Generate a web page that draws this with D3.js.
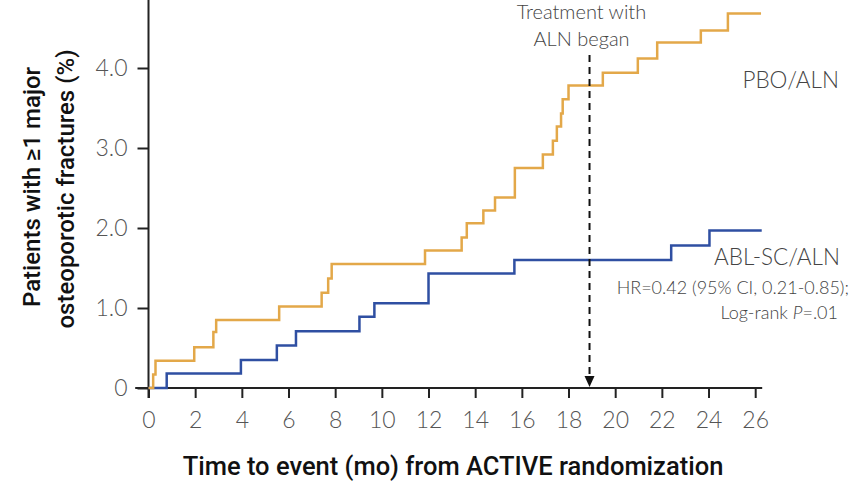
<!DOCTYPE html>
<html>
<head>
  <meta charset="UTF-8">
  <style>
    body { margin: 0; background: #fff; }
    svg { display: block; }
    .tick text { font-family: Lato, "Open Sans", sans-serif; font-weight: 300; fill: #555; }
    .note { font-family: Lato, "Open Sans", sans-serif; font-weight: 300; fill: #444; }
    .title { font-family: Roboto, "Open Sans", sans-serif; font-weight: 500; fill: #111; }
  </style>
</head>
<body>
<svg></svg>
<script src="https://d3js.org/d3.v7.min.js"></script>
<script>

// PBO/ALN curve (months, % with fracture)
let pboTime = [0, 0.2, 0.3, 1.96, 2.78, 2.9, 5.6, 7.42, 7.7, 7.85, 11.85, 13.42, 13.64, 14.35, 14.85, 15.7, 16.9, 17.33, 17.5, 17.68, 17.75, 18.0, 19.47, 20.97, 21.8, 23.67, 24.83, 26.25];
let pboPct  = [0, 0.17, 0.34, 0.51, 0.70, 0.85, 1.02, 1.19, 1.37, 1.55, 1.72, 1.88, 2.06, 2.22, 2.38, 2.75, 2.92, 3.09, 3.27, 3.43, 3.61, 3.78, 3.94, 4.12, 4.32, 4.47, 4.68, 4.68];

// ABL-SC/ALN curve
let ablTime = [0, 0.78, 3.96, 5.5, 6.32, 9.04, 9.68, 12.0, 15.68, 22.4, 24.04, 26.28];
let ablPct  = [0, 0.18, 0.35, 0.53, 0.71, 0.89, 1.06, 1.43, 1.60, 1.78, 1.97, 1.97];

let xTicks = [0, 2, 4, 6, 8, 10, 12, 14, 16, 18, 20, 22, 24, 26];
let yTicks = [0, 1, 2, 3, 4, 5];
let alnStart = 18.9;

let width = 851, height = 486;

let svg = d3.select("svg")
    .attr("width", width)
    .attr("height", height);

let x = d3.scaleLinear().domain([0, 26]).range([148.5, 755.2]);
let y = d3.scaleLinear().domain([0, 4]).range([388, 68]);

// axes
let xAxis = svg.append("g")
    .attr("transform", "translate(0," + y(0) + ")")
    .call(d3.axisBottom(x).tickValues(xTicks).tickSize(10).tickPadding(14));
xAxis.select(".domain").remove();
xAxis.selectAll("line").attr("stroke", "#222").attr("stroke-width", 2);
xAxis.selectAll("text").style("font-size", "23px");

let yAxis = svg.append("g")
    .attr("transform", "translate(" + x(0) + ",0)")
    .call(d3.axisLeft(y).tickValues(yTicks).tickSize(11).tickPadding(10)
      .tickFormat(d => d === 0 ? "0" : d.toFixed(1)));
yAxis.select(".domain").remove();
yAxis.selectAll("line").attr("stroke", "#222").attr("stroke-width", 2);
yAxis.selectAll("text").style("font-size", "23px");

// axis lines
svg.append("line")
    .attr("x1", x(-0.57)).attr("x2", x(26.3))
    .attr("y1", y(0)).attr("y2", y(0))
    .attr("stroke", "#222").attr("stroke-width", 2);
svg.append("line")
    .attr("x1", x(0)).attr("x2", x(0))
    .attr("y1", y(0) + 10).attr("y2", 0)
    .attr("stroke", "#222").attr("stroke-width", 2);

// step curves
let line = d3.line()
    .x(d => x(d[0]))
    .y(d => y(d[1]))
    .curve(d3.curveStepAfter);

svg.append("path")
    .datum(ablTime.map((t, i) => [t, ablPct[i]]))
    .attr("fill", "none")
    .attr("stroke", "#2f4fa2")
    .attr("stroke-width", 2.5)
    .attr("d", line);

svg.append("path")
    .datum(pboTime.map((t, i) => [t, pboPct[i]]))
    .attr("fill", "none")
    .attr("stroke", "#e3a849")
    .attr("stroke-width", 2.5)
    .attr("d", line);

// ALN start marker
svg.append("line")
    .attr("x1", x(alnStart)).attr("x2", x(alnStart))
    .attr("y1", 55).attr("y2", y(0) - 8)
    .attr("stroke", "#111").attr("stroke-width", 2)
    .attr("stroke-dasharray", "7,5");
svg.append("path")
    .attr("d", "M" + (x(alnStart) - 5) + "," + (y(0) - 12) + "L" + (x(alnStart) + 5) + "," + (y(0) - 12) + "L" + x(alnStart) + "," + (y(0) - 1) + "Z")
    .attr("fill", "#111");

svg.append("text").attr("class", "note")
    .attr("x", x(alnStart) - 8).attr("y", 19)
    .attr("text-anchor", "middle").style("font-size", "20px")
    .text("Treatment with");
svg.append("text").attr("class", "note")
    .attr("x", x(alnStart) - 8).attr("y", 46)
    .attr("text-anchor", "middle").style("font-size", "20px")
    .text("ALN began");

// series labels
svg.append("text").attr("class", "note")
    .attr("x", 839).attr("y", 88)
    .attr("text-anchor", "end").style("font-size", "22.5px")
    .text("PBO/ALN");
svg.append("text").attr("class", "note")
    .attr("x", 840).attr("y", 265)
    .attr("text-anchor", "end").style("font-size", "22.5px")
    .text("ABL-SC/ALN");
svg.append("text").attr("class", "note")
    .attr("x", 849).attr("y", 294)
    .attr("text-anchor", "end").style("font-size", "18px")
    .text("HR=0.42 (95% CI, 0.21-0.85);");
let lr = svg.append("text").attr("class", "note")
    .attr("x", 838).attr("y", 319)
    .attr("text-anchor", "end").style("font-size", "18px");
lr.append("tspan").text("Log-rank ");
lr.append("tspan").style("font-style", "italic").text("P");
lr.append("tspan").text("=.01");

// axis titles
svg.append("text").attr("class", "title")
    .attr("x", 453).attr("y", 475)
    .attr("text-anchor", "middle").style("font-size", "25.5px")
    .text("Time to event (mo) from ACTIVE randomization");

svg.append("text").attr("class", "title")
    .attr("transform", "translate(40,187) rotate(-90)")
    .attr("text-anchor", "middle").style("font-size", "24px")
    .text("Patients with \u22651 major");
svg.append("text").attr("class", "title")
    .attr("transform", "translate(74,189) rotate(-90)")
    .attr("text-anchor", "middle").style("font-size", "24px")
    .text("osteoporotic fractures (%)");

</script>
</body>
</html>
